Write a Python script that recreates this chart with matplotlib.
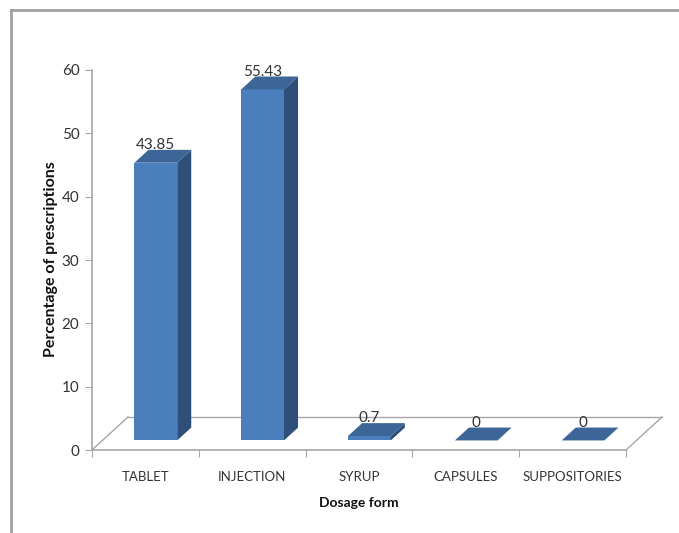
import matplotlib
matplotlib.use("Agg")
import matplotlib.pyplot as plt
from matplotlib.patches import Polygon
import numpy as np

# Prescription share by dosage form
categories = ["TABLET", "INJECTION", "SYRUP", "CAPSULES", "SUPPOSITORIES"]
values = [43.85, 55.43, 0.7, 0, 0]
value_labels = ["43.85", "55.43", "0.7", "0", "0"]
y_ticks = [0, 10, 20, 30, 40, 50, 60]

FONT = ["Lato", "DejaVu Sans"]
FRONT = "#4a7ebd"
SIDE = "#2f4f79"
TOP = "#3c6598"
GRID = "#a6a6a6"
TXT = "#333333"

W, H = 679, 533
fig = plt.figure(figsize=(W / 100, H / 100), dpi=100)
fig.patch.set_facecolor("white")

# outer frame (top and left edges)
fig.add_artist(plt.Line2D([11 / W, 1.0], [1 - 10 / H, 1 - 10 / H],
                          color="#a0a0a0", lw=2.0, transform=fig.transFigure))
fig.add_artist(plt.Line2D([11 / W, 11 / W], [0.0, 1 - 10 / H],
                          color="#a0a0a0", lw=2.0, transform=fig.transFigure))

left, right, bottom, top = 92, 626, 450, 70
ax = fig.add_axes([left / W, (H - bottom) / H, (right - left) / W, (bottom - top) / H])
ax.set_xlim(-0.5, len(categories) - 0.5)
ax.set_ylim(0, 60)
ax.patch.set_alpha(0)

# depth of the floor in data units (pixels converted via axis scales)
px_x = (len(categories)) / (right - left)
px_y = 60 / (bottom - top)
DX, DY = 36 * px_x, 33 * px_y
f0, f1 = 0.29, 0.68
bar_w = 0.40

x = np.arange(len(categories))

# floor outline
floor_kw = dict(color=GRID, lw=1.0, zorder=1, clip_on=False)
x0, x1 = -0.5, len(categories) - 0.5
ax.plot([x0, x0 + DX], [0, DY], **floor_kw)
ax.plot([x0 + DX, x1 + DX], [DY, DY], **floor_kw)
ax.plot([x1 + DX, x1], [DY, 0], **floor_kw)

# bars: front faces through ax.bar, side and top faces from the same values
xf = x + f0 * DX
base = f0 * DY
ax.bar(xf, values, width=bar_w, bottom=base, color=FRONT, zorder=3,
       clip_on=False, linewidth=0)
ddx, ddy = (f1 - f0) * DX, (f1 - f0) * DY
for xi, v in zip(xf, values):
    xl, xr = xi - bar_w / 2, xi + bar_w / 2
    yt = base + v
    side = Polygon([(xr, base), (xr + ddx, base + ddy), (xr + ddx, yt + ddy), (xr, yt)],
                   closed=True, facecolor=SIDE, edgecolor="none", zorder=3, clip_on=False)
    topf = Polygon([(xl, yt), (xr, yt), (xr + ddx, yt + ddy), (xl + ddx, yt + ddy)],
                   closed=True, facecolor=TOP, edgecolor="none", zorder=4, clip_on=False)
    ax.add_patch(side)
    ax.add_patch(topf)

for xi, v, lab in zip(xf, values, value_labels):
    ax.annotate(lab, xy=(xi, base + v + ddy), xytext=(0, 5), textcoords="offset pixels",
                ha="center", va="center", fontsize=11, color=TXT, family=FONT,
                zorder=5, annotation_clip=False)

# axes styling
for s in ["top", "right"]:
    ax.spines[s].set_visible(False)
for s in ["left", "bottom"]:
    ax.spines[s].set_color(GRID)
    ax.spines[s].set_linewidth(1.2)
ax.set_yticks(y_ticks)
ax.set_yticklabels([str(t) for t in y_ticks], family=FONT, fontsize=11, color=TXT)
ax.set_xticks(np.arange(len(categories) + 1) - 0.5, minor=False)
ax.set_xticklabels([""] * (len(categories) + 1))
ax.set_xticks(x, minor=True)
ax.set_xticklabels(categories, minor=True, family=FONT, fontsize=9.5, color=TXT)
ax.tick_params(axis="x", which="minor", length=0, pad=15)
ax.tick_params(axis="x", which="major", length=5, color=GRID, direction="out")
ax.tick_params(axis="y", length=5, color=GRID, direction="out", pad=4)

fig.text(359 / W, 1 - 503 / H, "Dosage form", ha="center", va="center",
         fontsize=10, fontweight="bold", family=FONT, color="#111111")
fig.text(51 / W, 1 - 259 / H, "Percentage of prescriptions", ha="center", va="center",
         rotation=90, fontsize=11.5, fontweight="bold", family=FONT, color="#111111")

fig.savefig("out.png", dpi=100)
